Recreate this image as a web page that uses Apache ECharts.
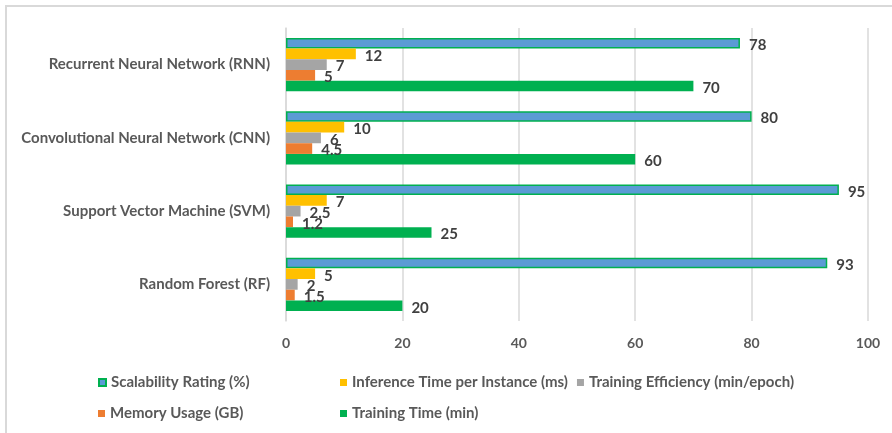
<!DOCTYPE html>
<html>
<head>
<meta charset="utf-8">
<script src="https://cdn.jsdelivr.net/npm/echarts@6/dist/echarts.min.js"></script>
<style>
  html, body { margin: 0; padding: 0; background: #ffffff; }
  #chart { width: 892px; height: 433px; }
</style>
</head>
<body>
<div id="chart"></div>
<script>
// Model categories, bottom to top
const categories = [
  'Random Forest (RF)',
  'Support Vector Machine (SVM)',
  'Convolutional Neural Network (CNN)',
  'Recurrent Neural Network (RNN)'
];

// Series values per model (same order as categories)
const scalabilityRating = [93, 95, 80, 78];
const inferenceTime = [5, 7, 10, 12];
const trainingEfficiency = [2, 2.5, 6, 7];
const memoryUsage = [1.5, 1.2, 4.5, 5];
const trainingTime = [20, 25, 60, 70];

const xTicks = [0, 20, 40, 60, 80, 100];

const FONT = 'Lato, "Liberation Sans", sans-serif';

const valueLabel = {
  show: true,
  position: 'right',
  distance: 9,
  offset: [0, 2],
  color: '#404040',
  fontFamily: FONT,
  fontWeight: 'bold',
  fontSize: 15
};

function barSeries(name, data, color, border) {
  return {
    name: name,
    type: 'bar',
    data: data,
    barGap: '0%',
    barCategoryGap: '27%',
    itemStyle: {
      color: color,
      borderColor: border || color,
      borderWidth: border ? 1.5 : 0
    },
    label: valueLabel
  };
}

const legendText = {
  color: '#595959',
  fontFamily: FONT,
  fontWeight: 'bold',
  fontSize: 15
};

function legendAt(names, left, top) {
  return {
    data: names,
    left: left,
    top: top,
    itemWidth: 7,
    itemHeight: 7,
    itemGap: 9,
    icon: 'rect',
    padding: 0,
    selectedMode: false,
    textStyle: legendText
  };
}

const chart = echarts.init(document.getElementById('chart'), null, { renderer: 'canvas' });

chart.setOption({
  animation: false,
  backgroundColor: '#ffffff',
  graphic: [{
    type: 'rect',
    shape: { x: 6, y: 6, width: 900, height: 440 },
    style: { fill: 'none', stroke: '#d9d9d9', lineWidth: 2 },
    silent: true
  }],
  grid: { left: 286, right: 24, top: 28, bottom: 112 },
  xAxis: {
    type: 'value',
    min: xTicks[0],
    max: xTicks[xTicks.length - 1],
    interval: xTicks[1] - xTicks[0],
    axisLine: { show: false },
    axisTick: { show: false },
    splitLine: { lineStyle: { color: '#d9d9d9', width: 1.5 } },
    axisLabel: {
      margin: 15,
      color: '#595959',
      fontFamily: FONT,
      fontWeight: 'bold',
      fontSize: 14
    }
  },
  yAxis: {
    type: 'category',
    data: categories,
    axisLine: { show: true, lineStyle: { color: '#d9d9d9', width: 1.5 } },
    axisTick: { show: false },
    axisLabel: {
      margin: 16,
      color: '#595959',
      fontFamily: FONT,
      fontWeight: 'bold',
      fontSize: 15
    }
  },
  legend: [
    legendAt(['Scalability Rating (%)'], 98, 375),
    legendAt(['Inference Time per Instance (ms)', 'Training Efficiency (min/epoch)'], 340, 375),
    legendAt(['Memory Usage (GB)'], 98, 406),
    legendAt(['Training Time (min)'], 340, 406)
  ],
  // Listed top-to-bottom within each group
  series: [
    barSeries('Scalability Rating (%)', scalabilityRating, '#5b9bd5', '#00b050'),
    barSeries('Inference Time per Instance (ms)', inferenceTime, '#ffc000'),
    barSeries('Training Efficiency (min/epoch)', trainingEfficiency, '#a5a5a5'),
    barSeries('Memory Usage (GB)', memoryUsage, '#ed7d31'),
    barSeries('Training Time (min)', trainingTime, '#00b050')
  ]
});
</script>
</body>
</html>
